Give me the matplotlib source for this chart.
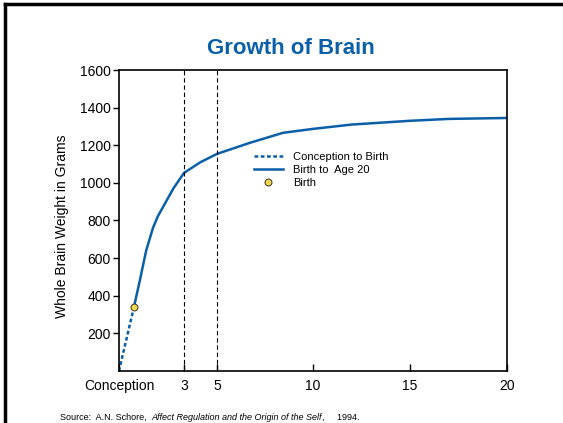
import matplotlib.pyplot as plt
from matplotlib.lines import Line2D

plt.rcParams['font.family'] = ['Liberation Sans', 'DejaVu Sans']

# x = years since conception (birth at ~0.77)
prenatal_x = [0, 0.77]
prenatal_y = [0, 340]
postnatal_x = [0.77, 1.08, 1.4, 1.75, 2.0, 2.27, 2.8, 3.35, 4.2, 5.05, 6.75, 8.45, 10, 12, 15, 17, 20]
postnatal_y = [340, 484, 640, 760, 822, 872, 970, 1053, 1110, 1154, 1213, 1266, 1287, 1310, 1330, 1340, 1345]
birth_x = [0.77]
birth_y = [340]
marker_ages = [3.35, 5.05]
xtick_pos = [0, 3.35, 5.05, 10, 15, 20]
xtick_labels = ['Conception', '3', '5', '10', '15', '20']
ytick_vals = [200, 400, 600, 800, 1000, 1200, 1400, 1600]

blue = '#0a5fa8'

fig = plt.figure(figsize=(5.63, 4.23), dpi=100)
ax = fig.add_axes([119 / 563, 1 - 371 / 423, 388 / 563, 301 / 423])

ax.plot(prenatal_x, prenatal_y, color=blue, lw=1.8, linestyle=(0, (1.5, 1.0)),
        label='Conception to Birth')
ax.plot(postnatal_x, postnatal_y, color=blue, lw=1.8, label='Birth to  Age 20')
ax.plot(birth_x, birth_y, 'o', color='#f2d84a', mec='#333333', mew=0.7, ms=5,
        label='Birth', zorder=5)
for a in marker_ages:
    ax.axvline(a, color='black', lw=0.8, linestyle=(0, (4, 2.5)))

ax.set_xlim(0, 20)
ax.set_ylim(0, 1600)
ax.set_xticks(xtick_pos)
ax.set_xticklabels(xtick_labels, fontsize=10)
ax.set_yticks(ytick_vals)
ax.set_yticklabels([str(v) for v in ytick_vals], fontsize=10)
ax.tick_params(axis='x', direction='in', length=5, width=1, pad=6)
ax.tick_params(axis='y', direction='out', length=4, width=1, pad=2)
for s in ax.spines.values():
    s.set_linewidth(1.2)

ax.legend(loc='upper left', bbox_to_anchor=(254 / 563, 1 - 152 / 423),
          bbox_transform=fig.transFigure, frameon=False, fontsize=8,
          borderaxespad=0, borderpad=0, handlelength=2.6, handletextpad=0.9,
          labelspacing=0.25)

fig.text(291 / 563, 1 - 48 / 423, 'Growth of Brain', color=blue, fontsize=16,
         fontweight='bold', ha='center', va='center')
fig.text(62 / 563, 1 - 226 / 423, 'Whole Brain Weight in Grams', rotation=90,
         fontsize=10, ha='center', va='center')

# source line, pieces placed one after the other
src_y = 1 - 417 / 423
t1 = fig.text(60 / 563, src_y, 'Source:  A.N. Schore,  ', fontsize=6.5, ha='left', va='center')
fig.canvas.draw()
r = fig.canvas.get_renderer()
x2 = t1.get_window_extent(r).x1
t2 = fig.text(x2 / fig.bbox.width, src_y, 'Affect Regulation and the Origin of the Self',
              fontsize=6.5, style='italic', ha='left', va='center')
x3 = t2.get_window_extent(r).x1
fig.text(x3 / fig.bbox.width, src_y, ',     1994.', fontsize=6.5, ha='left', va='center')

# frame lines at top and left of the figure
fig.add_artist(Line2D([4.5 / 563, 1], [1 - 4.5 / 423, 1 - 4.5 / 423], color='black', lw=2.5,
                      transform=fig.transFigure))
fig.add_artist(Line2D([4.5 / 563, 4.5 / 563], [0, 1 - 4.5 / 423], color='black', lw=2.5,
                      transform=fig.transFigure))

fig.savefig('out.png', dpi=100)
